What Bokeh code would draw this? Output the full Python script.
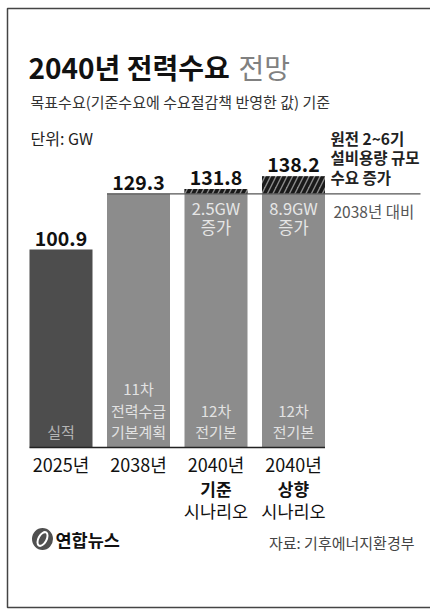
from bokeh.plotting import figure
from bokeh.models import Range1d
from bokeh.core.properties import value
from bokeh.embed import file_html
from bokeh.resources import INLINE

# ---- data ----
cat_year = ["2025년", "2038년", "2040년", "2040년"]
cat_scenario = ["", "", "기준", "상향"]
cat_suffix = ["", "", "시나리오", "시나리오"]
values = [100.9, 129.3, 131.8, 138.2]
base_2038 = 129.3
plan_lines = [["실적"], ["11차", "전력수급", "기본계획"], ["12차", "전기본"], ["12차", "전기본"]]
title_bold = "2040년 전력수요"
title_light = "전망"
subtitle = "목표수요(기준수요에 수요절감책 반영한 값) 기준"
unit_text = "단위: GW"
note_lines = ["원전 2~6기", "설비용량 규모", "수요 증가"]
note_sub = "2038년 대비"
source_text = "자료: 기후에너지환경부"
logo_text = "연합뉴스"

FONT = value("Noto Sans CJK KR")
W, H = 430, 611
px_per_gw = 1.962
base_px = 164  # pixel height of value 0 above canvas bottom
spacing = 77.5
first_center = 60.5

p = figure(width=W, height=H, output_backend="svg", toolbar_location=None,
           x_axis_type=None, y_axis_type=None, min_border=0,
           x_range=Range1d(-first_center / spacing, (W - first_center) / spacing),
           y_range=Range1d(-base_px / px_per_gw, (H - base_px) / px_per_gw))
p.outline_line_color = None
p.grid.visible = False
p.background_fill_color = "white"
p.border_fill_color = "white"
p.extra_x_ranges = {"px": Range1d(0, W)}
p.extra_y_ranges = {"px": Range1d(H, 0)}
PX = dict(x_range_name="px", y_range_name="px")

idx = list(range(len(values)))
bw = 0.813

# frame
p.line([W, 7, 7, W], [8, 8, 607, 607], line_color="#444444", line_width=1.5, **PX)

# bars
colors = ["#4d4d4d", "#8c8c8c", "#8c8c8c", "#8c8c8c"]
base_tops = [min(v, base_2038) for v in values]
p.vbar(x=idx, top=base_tops, bottom=0, width=bw, fill_color=colors, line_color=None)
inc_idx = [i for i, v in enumerate(values) if v > base_2038]
p.vbar(x=inc_idx, top=[values[i] for i in inc_idx], bottom=base_2038, width=bw,
       fill_color="#8c8c8c", line_color=None, hatch_pattern="/",
       hatch_color="#1a1a1a", hatch_weight=3.6, hatch_scale=11)

# 2038 reference line
p.segment(x0=[1 - bw / 2], y0=[base_2038], x1=[(420 - first_center) / spacing], y1=[base_2038],
          line_color="#555555", line_width=1.2)

# baseline
p.segment(x0=[-bw / 2], y0=[0], x1=[idx[-1] + bw / 2], y1=[0], line_color="#222222", line_width=1.6)

# value labels
p.text(x=idx, y=values, text=[f"{v:.1f}" for v in values], text_align="center",
       text_baseline="bottom", y_offset=-4, text_font=FONT, text_font_style="bold",
       text_font_size="19.5px", text_color="#111111")

# increase labels inside bars
inc_text = [f"{values[i] - base_2038:.1f}GW" for i in inc_idx]
p.text(x=inc_idx, y=[base_2038] * len(inc_idx), text=inc_text, text_align="center",
       text_baseline="middle", y_offset=14, text_font=FONT, text_font_size="16.5px",
       text_color="#e6e6e6")
p.text(x=inc_idx, y=[base_2038] * len(inc_idx), text=["증가"] * len(inc_idx), text_align="center",
       text_baseline="middle", y_offset=33, text_font=FONT, text_font_size="16.5px",
       text_color="#e6e6e6")

# plan labels at bottom of bars
for i, lines in enumerate(plan_lines):
    n = len(lines)
    for j, t in enumerate(lines):
        p.text(x=[i], y=[0], text=[t], text_align="center", text_baseline="middle",
               y_offset=-16 - 21.5 * (n - 1 - j), text_font=FONT, text_font_size="15px",
               text_color="#b4b4b4" if i == 0 else "#e2e2e2")

# category labels
p.text(x=idx, y=[0] * 4, text=cat_year, text_align="center", text_baseline="middle",
       y_offset=16, text_font=FONT, text_font_size="18px", text_color="#111111")
p.text(x=idx, y=[0] * 4, text=cat_scenario, text_align="center", text_baseline="middle",
       y_offset=41, text_font=FONT, text_font_size="17px", text_font_style="bold",
       text_color="#111111")
p.text(x=idx, y=[0] * 4, text=cat_suffix, text_align="center", text_baseline="middle",
       y_offset=63, text_font=FONT, text_font_size="17.5px", text_color="#111111")

# title block
p.text(x=[28], y=[66], text=[title_bold], text_font=FONT, text_font_style="bold",
       text_font_size="28px", text_baseline="middle", text_color="#111111", **PX)
p.text(x=[238], y=[66], text=[title_light], text_font=FONT,
       text_font_size="28px", text_baseline="middle", text_color="#808080", **PX)
p.text(x=[30], y=[100.5], text=[subtitle], text_font=FONT, text_font_size="15px",
       text_baseline="middle", text_color="#333333", **PX)
p.text(x=[30], y=[137.5], text=[unit_text], text_font=FONT, text_font_size="16px",
       text_baseline="middle", text_color="#222222", **PX)

# note
for j, t in enumerate(note_lines):
    p.text(x=[330], y=[137 + 19.5 * j], text=[t], text_font=FONT, text_font_size="15.5px",
           text_font_style="bold", text_baseline="middle", text_color="#222222", **PX)
p.text(x=[333], y=[210], text=[note_sub], text_font=FONT, text_font_size="15.5px",
       text_baseline="middle", text_color="#555555", **PX)

# logo and source
p.ellipse(x=[42], y=[538.5], width=21, height=22, fill_color="#505050", line_color=None, **PX)
p.ellipse(x=[42], y=[538.5], width=8, height=15, angle=-0.5, fill_color=None,
          line_color="white", line_width=2, **PX)
p.text(x=[55], y=[539], text=[logo_text], text_font=FONT, text_font_style="bold",
       text_font_size="17.5px", text_baseline="middle", text_color="#111111", **PX)
p.text(x=[414], y=[542], text=[source_text], text_font=FONT, text_font_size="15px",
       text_baseline="middle", text_align="right", text_color="#444444", **PX)

open("out.html", "w").write(file_html(p, INLINE))
